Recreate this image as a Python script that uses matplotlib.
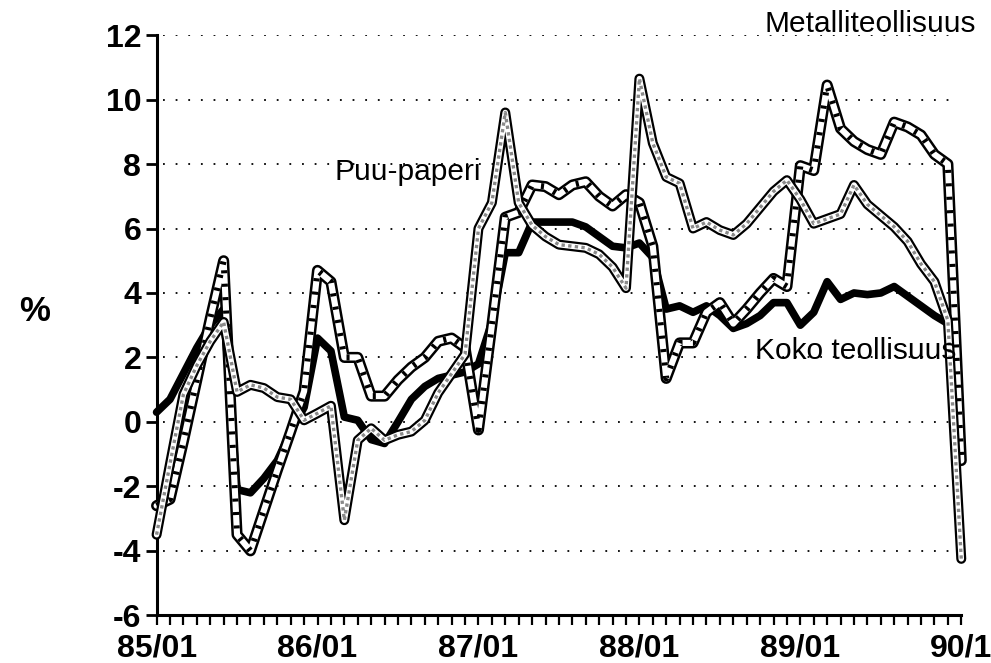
import numpy as np
import matplotlib
matplotlib.use("Agg")
import matplotlib.pyplot as plt

plt.rcParams["axes.unicode_minus"] = False

months = np.arange(61)
tick_positions = [0, 12, 24, 36, 48, 60]
tick_labels = ["85/01", "86/01", "87/01", "88/01", "89/01", "90/1"]

koko = [0.3, 0.7, 1.5, 2.3, 3.0, 3.5, -2.1, -2.2, -1.75, -1.2, -0.3, 0.45,
        2.6, 2.2, 0.15, 0.05, -0.55, -0.67, 0.0, 0.7, 1.1, 1.35, 1.45, 1.55,
        1.8, 3.1, 5.25, 5.25, 6.2, 6.2, 6.2, 6.2, 6.05, 5.75, 5.45, 5.4,
        5.55, 5.1, 3.5, 3.6, 3.4, 3.6, 3.3, 2.9, 3.05, 3.3, 3.7, 3.7,
        3.0, 3.4, 4.35, 3.8, 4.0, 3.95, 4.0, 4.2, 3.9, 3.6, 3.3, 3.05, np.nan]

metalli = [-2.6, -2.4, -0.6, 1.3, 3.2, 5.0, -3.5, -4.0, -2.75, -1.5, -0.3, 0.95,
           4.7, 4.35, 2.0, 2.0, 0.8, 0.8, 1.3, 1.7, 2.0, 2.5, 2.6, 2.3,
           -0.25, 3.0, 6.35, 6.5, 7.35, 7.3, 7.05, 7.35, 7.45, 7.0, 6.7, 7.05,
           6.8, 5.45, 1.35, 2.45, 2.45, 3.4, 3.7, 3.05, 3.5, 4.0, 4.45, 4.2,
           7.95, 7.8, 10.45, 9.1, 8.7, 8.45, 8.3, 9.3, 9.15, 8.9, 8.3, 8.0, -1.2]

puu = [-3.5, -1.3, 0.85, 1.75, 2.5, 3.1, 0.93, 1.15, 1.05, 0.77, 0.7, 0.05,
       0.27, 0.5, -3.05, -0.57, -0.2, -0.57, -0.4, -0.3, 0.05, 0.9, 1.5, 2.1,
       6.0, 6.8, 9.6, 6.8, 6.1, 5.75, 5.5, 5.45, 5.4, 5.2, 4.8, 4.15,
       10.65, 8.65, 7.6, 7.4, 6.0, 6.2, 5.95, 5.8, 6.15, 6.65, 7.15, 7.5,
       6.9, 6.15, 6.3, 6.45, 7.35, 6.75, 6.4, 6.05, 5.6, 4.9, 4.35, 3.15, -4.25]

fig = plt.figure(figsize=(9.91, 6.63), dpi=100)
ax = fig.add_axes([0.158, 0.072, 0.812, 0.875])
ax.set_xlim(0, 60)
ax.set_ylim(-6, 12)

# grid
for yv in range(-4, 13, 2):
    ax.plot([0.5, 59.5], [yv, yv], color="black", lw=1.3,
            linestyle=(0, (1, 6)), zorder=1)

J = dict(solid_joinstyle="round", solid_capstyle="round", clip_on=False)

# Koko teollisuus
ax.plot(months, koko, color="black", lw=5.5, zorder=3, **J)
# Metalliteollisuus
ax.plot(months, metalli, color="black", lw=8, zorder=4, **J)
ax.plot(months, metalli, color="white", lw=4.4, zorder=5, **J)
ax.plot(months, metalli, color="black", lw=4.4, zorder=6, clip_on=False,
        linestyle=(0, (0.5, 1.7)), dash_capstyle="butt")
# Puu-paperi
ax.plot(months, puu, color="black", lw=7.2, zorder=7, **J)
ax.plot(months, puu, color="white", lw=4.0, zorder=8, **J)
ax.plot(months, puu, color="#8a8a8a", lw=2.4, zorder=9, clip_on=False,
        linestyle=(0, (1, 1)))

for s in ["top", "right"]:
    ax.spines[s].set_visible(False)
for s in ["left", "bottom"]:
    ax.spines[s].set_linewidth(2.2)

ax.set_yticks(range(-6, 13, 2))
ax.set_xticks(tick_positions)
ax.set_xticklabels(tick_labels)
ax.set_xticks(months, minor=True)
ax.tick_params(axis="y", direction="out", length=8, width=2, pad=3)
ax.tick_params(axis="x", which="both", direction="out", length=7, width=1.6, pad=6)
for lab in ax.get_xticklabels() + ax.get_yticklabels():
    lab.set_fontfamily("Liberation Sans")
    lab.set_fontweight("bold")
    lab.set_fontsize(23)

font = dict(family="Liberation Sans", fontsize=21.5)
ax.text(45.3, 12.35, "Metalliteollisuus", ha="left", va="center", clip_on=False, **font)
ax.text(13.3, 7.75, "Puu-paperi", ha="left", va="center", **font)
ax.text(44.6, 2.2, "Koko teollisuus", ha="left", va="center", zorder=10, **font)
fig.text(0.035, 0.53, "%", ha="center", va="center", family="Liberation Sans",
         fontsize=25, fontweight="bold")

fig.savefig("out.png", dpi=100)
